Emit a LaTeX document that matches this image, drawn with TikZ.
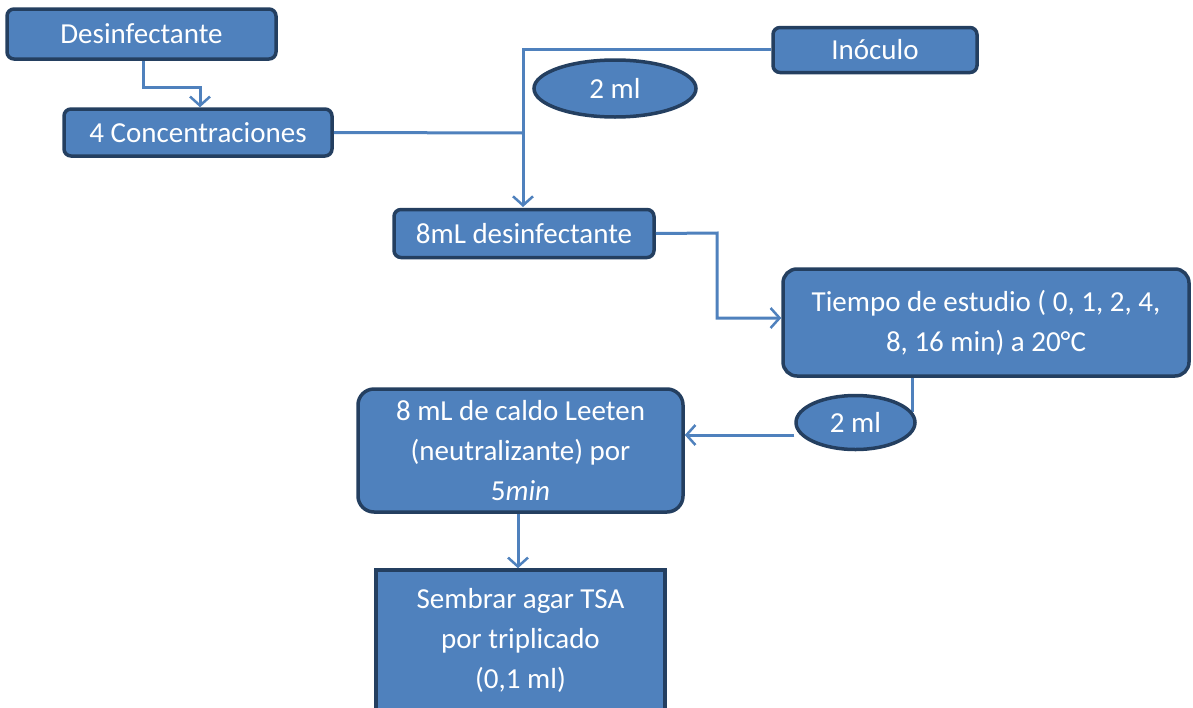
\documentclass[tikz,border=0pt]{standalone}
\usepackage{fontspec}
\setmainfont{Carlito}
\usetikzlibrary{shapes.geometric,arrows.meta}
\definecolor{boxfill}{HTML}{4F81BD}
\definecolor{boxedge}{HTML}{243F60}
\begin{document}
\begin{tikzpicture}[x=1pt,y=-1pt,
  box/.style={draw=boxedge,fill=boxfill,line width=3.5pt,rounded corners=7pt,inner sep=0pt,
    text=white,font=\fontsize{29}{40}\selectfont,align=center},
  oval/.style={ellipse,draw=boxedge,fill=boxfill,line width=3.5pt,inner sep=0pt,
    text=white,font=\fontsize{29}{40}\selectfont},
  conn/.style={draw=boxfill,line width=3pt},
  arr/.style={conn,-{Straight Barb[length=9pt,width=20pt,line width=2.5pt]}}]
\useasboundingbox (0,0) rectangle (1193,707);
% nodes
\node[box,minimum width=269pt,minimum height=50pt] (des) at (141.5,34) {Desinfectante};
\node[box,minimum width=268pt,minimum height=47pt] (conc) at (198,132.5) {4 Concentraciones};
\node[box,minimum width=204pt,minimum height=45pt] (ino) at (875,50) {Inóculo};
\node[box,minimum width=260pt,minimum height=48pt] (ocho) at (524,233.5) {8mL desinfectante};
\node[box,rounded corners=14pt,minimum width=406pt,minimum height=107pt] (tiempo) at (986,322.5) {Tiempo de estudio ( 0, 1, 2, 4,\\8, 16 min) a 20°C};
\node[box,rounded corners=16pt,minimum width=325pt,minimum height=123pt] (caldo) at (520.5,450.5) {8 mL de caldo Leeten\\(neutralizante) por\\5\textit{min}};
\node[box,rounded corners=0pt,minimum width=289pt,minimum height=140pt] (sem) at (520.5,640) {Sembrar agar TSA\\por triplicado\\(0,1 ml)};
% connectors (below ellipses)
\coordinate (j) at (523,133);
\coordinate (a1) at (143,87);
\coordinate (a2) at (200,87);
\draw[arr] (des.south -| a1) -- (a1) -- (a2) -- (a2 |- conc.north);
\draw[conn] (conc.east) -- (j);
\draw[arr] (ino.west |- 0,49) -- (523,49) -- (523,207);
\coordinate (b1) at (717,233);
\draw[arr] (ocho.east) -- (b1) -- (b1 |- 0,318) -- (tiempo.west |- 0,318);
\coordinate (c1) at (912,412);
\draw[conn] (tiempo.south -| c1) -- (c1);
\node[oval,minimum width=162pt,minimum height=57pt] (e1) at (615,88.5) {2 ml};
\node[oval,minimum width=119pt,minimum height=54pt] (e2) at (855.5,422.5) {2 ml};
\draw[arr] (e2.west |- 0,435) -- (caldo.east |- 0,435);
\draw[arr] (caldo.south -| 518,0) -- (sem.north -| 518,0);
\end{tikzpicture}
\end{document}
